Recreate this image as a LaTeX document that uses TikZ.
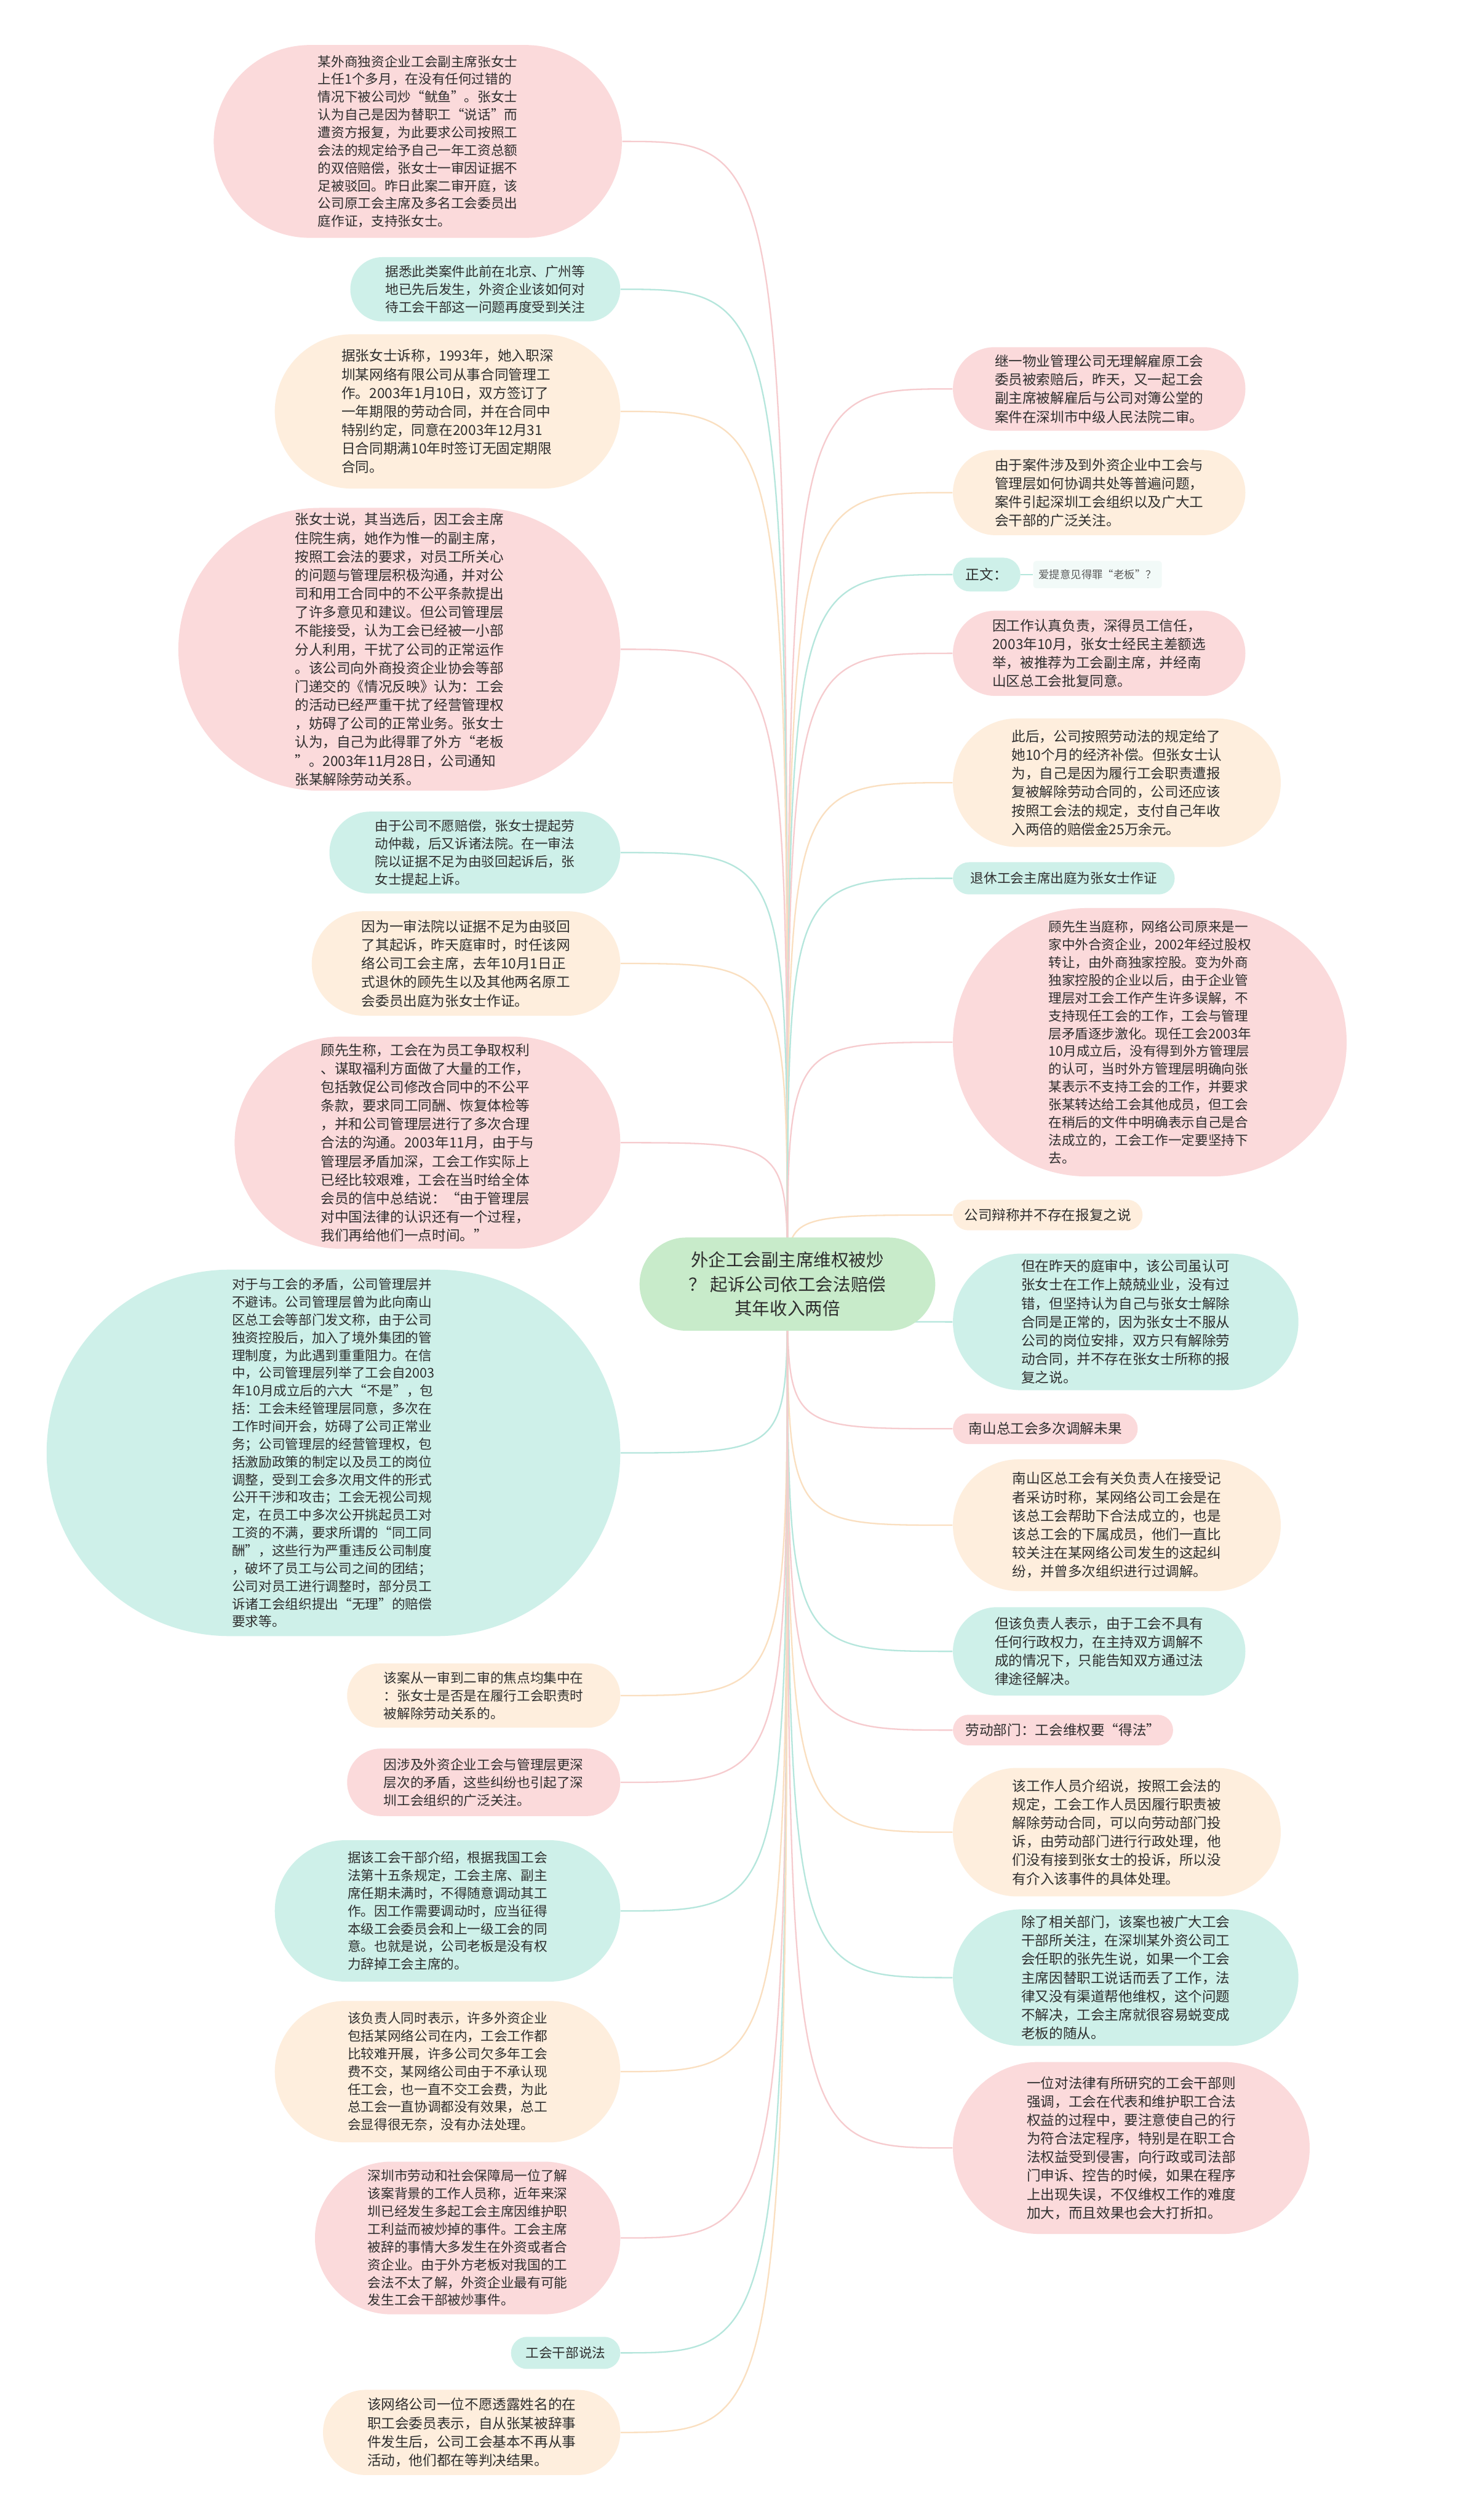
\documentclass[tikz,border=0pt]{standalone}
\usepackage{fontspec}
\setmainfont{Noto Sans CJK SC}
\usepackage{xcolor}
\usetikzlibrary{positioning}

\definecolor{pinkF}{HTML}{FBDADB}
\definecolor{tealF}{HTML}{CEF0E9}
\definecolor{creamF}{HTML}{FEEEDD}
\definecolor{rootF}{HTML}{C8EBCA}
\definecolor{paleF}{HTML}{F2FAF8}
\definecolor{pinkL}{HTML}{F6CBCE}
\definecolor{tealL}{HTML}{B5E6DC}
\definecolor{creamL}{HTML}{FADFC0}
\definecolor{txt}{HTML}{2E2E2E}

\begin{document}
\begin{tikzpicture}[
    x=0.028cm, y=-0.028cm,
    leaf/.style 2 args={rectangle, minimum width=#1*0.028cm, minimum height=#2*0.028cm, rounded corners=#2*0.014cm, inner sep=0pt, align=left, text=txt},
    tight/.style={font=\fontsize{6.6}{8.8}\selectfont},
    loose/.style={font=\fontsize{6.9}{9.2}\selectfont},
    link/.style={line width=0.7pt}]
    \fill[white] (0,0) rectangle (914,1568);
    \useasboundingbox (0,0) rectangle (914,1568);
    \coordinate (hub) at (490,799);

    % left side
    \node[leaf={254}{120}, tight, fill=pinkF] (l1) at (260,88) {某外商独资企业工会副主席张女士\\上任1个多月，在没有任何过错的\\情况下被公司炒“鱿鱼”。张女士\\认为自己是因为替职工“说话”而\\遭资方报复，为此要求公司按照工\\会法的规定给予自己一年工资总额\\的双倍赔偿，张女士一审因证据不\\足被驳回。昨日此案二审开庭，该\\公司原工会主席及多名工会委员出\\庭作证，支持张女士。};
    \node[leaf={168}{40}, tight, fill=tealF] (l2) at (302,180) {据悉此类案件此前在北京、广州等\\地已先后发生，外资企业该如何对\\待工会干部这一问题再度受到关注};
    \node[leaf={215}{96}, loose, fill=creamF] (l3) at (278.5,256) {据张女士诉称，1993年，她入职深\\圳某网络有限公司从事合同管理工\\作。2003年1月10日，双方签订了\\一年期限的劳动合同，并在合同中\\特别约定，同意在2003年12月31\\日合同期满10年时签订无固定期限\\合同。};
    \node[leaf={275}{176}, loose, fill=pinkF] (l4) at (248.5,404) {张女士说，其当选后，因工会主席\\住院生病，她作为惟一的副主席，\\按照工会法的要求，对员工所关心\\的问题与管理层积极沟通，并对公\\司和用工合同中的不公平条款提出\\了许多意见和建议。但公司管理层\\不能接受，认为工会已经被一小部\\分人利用，干扰了公司的正常运作\\。该公司向外商投资企业协会等部\\门递交的《情况反映》认为：工会\\的活动已经严重干扰了经营管理权\\，妨碍了公司的正常业务。张女士\\认为，自己为此得罪了外方“老板\\”。2003年11月28日，公司通知\\张某解除劳动关系。};
    \node[leaf={181}{51}, tight, fill=tealF] (l5) at (295.5,530.5) {由于公司不愿赔偿，张女士提起劳\\动仲裁，后又诉诸法院。在一审法\\院以证据不足为由驳回起诉后，张\\女士提起上诉。};
    \node[leaf={192}{65}, loose, fill=creamF] (l6) at (290,599.5) {因为一审法院以证据不足为由驳回\\了其起诉，昨天庭审时，时任该网\\络公司工会主席，去年10月1日正\\式退休的顾先生以及其他两名原工\\会委员出庭为张女士作证。};
    \node[leaf={240}{132}, loose, fill=pinkF] (l7) at (266,711) {顾先生称，工会在为员工争取权利\\、谋取福利方面做了大量的工作，\\包括敦促公司修改合同中的不公平\\条款，要求同工同酬、恢复体检等\\，并和公司管理层进行了多次合理\\合法的沟通。2003年11月，由于与\\管理层矛盾加深，工会工作实际上\\已经比较艰难，工会在当时给全体\\会员的信中总结说：“由于管理层\\对中国法律的认识还有一个过程，\\我们再给他们一点时间。”};
    \node[leaf={357}{228}, tight, fill=tealF] (l8) at (207.5,904) {对于与工会的矛盾，公司管理层并\\不避讳。公司管理层曾为此向南山\\区总工会等部门发文称，由于公司\\独资控股后，加入了境外集团的管\\理制度，为此遇到重重阻力。在信\\中，公司管理层列举了工会自2003\\年10月成立后的六大“不是”，包\\括：工会未经管理层同意，多次在\\工作时间开会，妨碍了公司正常业\\务；公司管理层的经营管理权，包\\括激励政策的制定以及员工的岗位\\调整，受到工会多次用文件的形式\\公开干涉和攻击；工会无视公司规\\定，在员工中多次公开挑起员工对\\工资的不满，要求所谓的“同工同\\酬”，这些行为严重违反公司制度\\，破坏了员工与公司之间的团结；\\公司对员工进行调整时，部分员工\\诉诸工会组织提出“无理”的赔偿\\要求等。};
    \node[leaf={170}{40}, tight, fill=creamF] (l9) at (301,1055) {该案从一审到二审的焦点均集中在\\：张女士是否是在履行工会职责时\\被解除劳动关系的。};
    \node[leaf={170}{42}, tight, fill=pinkF] (l10) at (301,1109) {因涉及外资企业工会与管理层更深\\层次的矛盾，这些纠纷也引起了深\\圳工会组织的广泛关注。};
    \node[leaf={215}{88}, tight, fill=tealF] (l11) at (278.5,1189) {据该工会干部介绍，根据我国工会\\法第十五条规定，工会主席、副主\\席任期未满时，不得随意调动其工\\作。因工作需要调动时，应当征得\\本级工会委员会和上一级工会的同\\意。也就是说，公司老板是没有权\\力辞掉工会主席的。};
    \node[leaf={215}{88}, tight, fill=creamF] (l12) at (278.5,1289) {该负责人同时表示，许多外资企业\\包括某网络公司在内，工会工作都\\比较难开展，许多公司欠多年工会\\费不交，某网络公司由于不承认现\\任工会，也一直不交工会费，为此\\总工会一直协调都没有效果，总工\\会显得很无奈，没有办法处理。};
    \node[leaf={190}{95}, tight, fill=pinkF] (l13) at (291,1392.5) {深圳市劳动和社会保障局一位了解\\该案背景的工作人员称，近年来深\\圳已经发生多起工会主席因维护职\\工利益而被炒掉的事件。工会主席\\被辞的事情大多发生在外资或者合\\资企业。由于外方老板对我国的工\\会法不太了解，外资企业最有可能\\发生工会干部被炒事件。};
    \node[leaf={68}{20}, tight, fill=tealF] (l14) at (352,1464) {工会干部说法};
    \node[leaf={185}{53}, loose, fill=creamF] (l15) at (293.5,1513.5) {该网络公司一位不愿透露姓名的在\\职工会委员表示，自从张某被辞事\\件发生后，公司工会基本不再从事\\活动，他们都在等判决结果。};

    % right side
    \node[leaf={182}{52}, loose, fill=pinkF] (r1) at (684,242) {继一物业管理公司无理解雇原工会\\委员被索赔后，昨天，又一起工会\\副主席被解雇后与公司对簿公堂的\\案件在深圳市中级人民法院二审。};
    \node[leaf={182}{53}, loose, fill=creamF] (r2) at (684,306.5) {由于案件涉及到外资企业中工会与\\管理层如何协调共处等普遍问题，\\案件引起深圳工会组织以及广大工\\会干部的广泛关注。};
    \node[leaf={42}{21}, loose, fill=tealF] (r3) at (614,357.5) {正文：};
    \node[rectangle, rounded corners=1.5pt, minimum width=80*0.028cm, minimum height=17*0.028cm, inner sep=0pt, fill=paleF, text=txt!80, font=\fontsize{5.3}{6.5}\selectfont] (r3a) at (683,357.5) {爱提意见得罪“老板”？};
    \node[leaf={182}{53}, loose, fill=pinkF] (r4) at (684,406.5) {因工作认真负责，深得员工信任，\\2003年10月，张女士经民主差额选\\举，被推荐为工会副主席，并经南\\山区总工会批复同意。};
    \node[leaf={204}{80}, loose, fill=creamF] (r5) at (695,487) {此后，公司按照劳动法的规定给了\\她10个月的经济补偿。但张女士认\\为，自己是因为履行工会职责遭报\\复被解除劳动合同的，公司还应该\\按照工会法的规定，支付自己年收\\入两倍的赔偿金25万余元。};
    \node[leaf={138}{20}, tight, fill=tealF] (r6) at (662,546.5) {退休工会主席出庭为张女士作证};
    \node[leaf={245}{167}, tight, fill=pinkF] (r7) at (715.5,648.5) {顾先生当庭称，网络公司原来是一\\家中外合资企业，2002年经过股权\\转让，由外商独家控股。变为外商\\独家控股的企业以后，由于企业管\\理层对工会工作产生许多误解，不\\支持现任工会的工作，工会与管理\\层矛盾逐步激化。现任工会2003年\\10月成立后，没有得到外方管理层\\的认可，当时外方管理层明确向张\\某表示不支持工会的工作，并要求\\张某转达给工会其他成员，但工会\\在稍后的文件中明确表示自己是合\\法成立的，工会工作一定要坚持下\\去。};
    \node[leaf={118}{19}, loose, fill=creamF] (r8) at (652,756) {公司辩称并不存在报复之说};
    \node[leaf={215}{85}, loose, fill=tealF] (r9) at (700.5,822.5) {但在昨天的庭审中，该公司虽认可\\张女士在工作上兢兢业业，没有过\\错，但坚持认为自己与张女士解除\\合同是正常的，因为张女士不服从\\公司的岗位安排，双方只有解除劳\\动合同，并不存在张女士所称的报\\复之说。};
    \node[leaf={115}{19}, loose, fill=pinkF] (r10) at (650.5,889) {南山总工会多次调解未果};
    \node[leaf={204}{82}, loose, fill=creamF] (r11) at (695,949) {南山区总工会有关负责人在接受记\\者采访时称，某网络公司工会是在\\该总工会帮助下合法成立的，也是\\该总工会的下属成员，他们一直比\\较关注在某网络公司发生的这起纠\\纷，并曾多次组织进行过调解。};
    \node[leaf={182}{55}, loose, fill=tealF] (r12) at (684,1027.5) {但该负责人表示，由于工会不具有\\任何行政权力，在主持双方调解不\\成的情况下，只能告知双方通过法\\律途径解决。};
    \node[leaf={137}{19}, loose, fill=pinkF] (r13) at (661.5,1076.5) {劳动部门：工会维权要“得法”};
    \node[leaf={204}{80}, loose, fill=creamF] (r14) at (695,1140) {该工作人员介绍说，按照工会法的\\规定，工会工作人员因履行职责被\\解除劳动合同，可以向劳动部门投\\诉，由劳动部门进行行政处理，他\\们没有接到张女士的投诉，所以没\\有介入该事件的具体处理。};
    \node[leaf={215}{85}, loose, fill=tealF] (r15) at (700.5,1230.5) {除了相关部门，该案也被广大工会\\干部所关注，在深圳某外资公司工\\会任职的张先生说，如果一个工会\\主席因替职工说话而丢了工作，法\\律又没有渠道帮他维权，这个问题\\不解决，工会主席就很容易蜕变成\\老板的随从。};
    \node[leaf={222}{107}, loose, fill=pinkF] (r16) at (704,1336.5) {一位对法律有所研究的工会干部则\\强调，工会在代表和维护职工合法\\权益的过程中，要注意使自己的行\\为符合法定程序，特别是在职工合\\法权益受到侵害，向行政或司法部\\门申诉、控告的时候，如果在程序\\上出现失误，不仅维权工作的难度\\加大，而且效果也会大打折扣。};

    % connectors
    \foreach \nd/\col in {l1/pinkL, l2/tealL, l3/creamL, l4/pinkL, l5/tealL, l6/creamL, l7/pinkL, l8/tealL, l9/creamL, l10/pinkL, l11/tealL, l12/creamL, l13/pinkL, l14/tealL, l15/creamL}
        \draw[link, draw=\col] (hub) .. controls (hub |- \nd.east) .. (\nd.east);
    \foreach \nd/\col in {r1/pinkL, r2/creamL, r3/tealL, r4/pinkL, r5/creamL, r6/tealL, r7/pinkL, r8/creamL, r9/tealL, r10/pinkL, r11/creamL, r12/tealL, r13/pinkL, r14/creamL, r15/tealL, r16/pinkL}
        \draw[link, draw=\col] (hub) .. controls (hub |- \nd.west) .. (\nd.west);
    \draw[link, draw=tealL] (r3.east) -- (r3a.west);

    \node[leaf={184}{58}, fill=rootF, align=center, font=\fontsize{8.7}{12}\selectfont] (root) at (hub) {外企工会副主席维权被炒\\？ 起诉公司依工会法赔偿\\其年收入两倍};
\end{tikzpicture}
\end{document}
